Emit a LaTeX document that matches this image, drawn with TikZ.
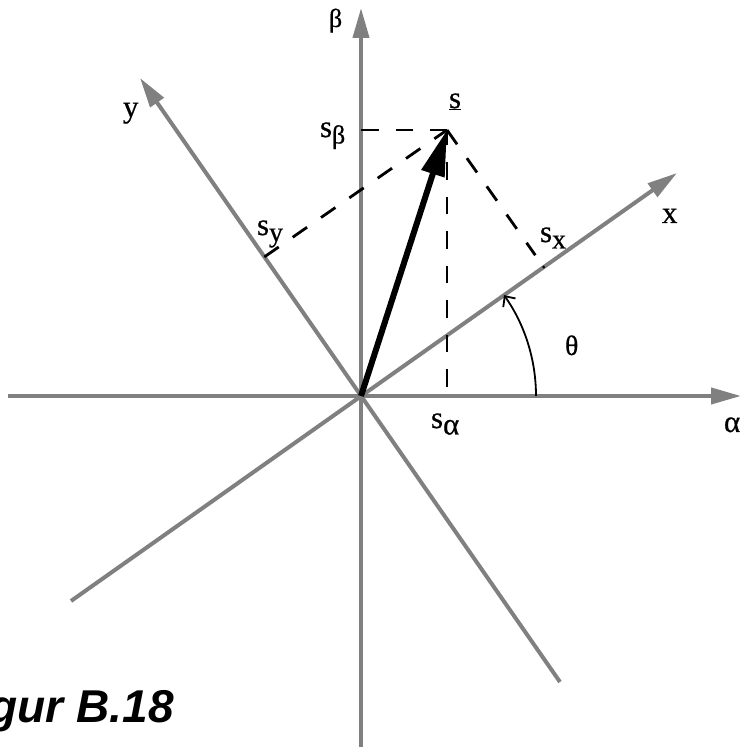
\documentclass[tikz,border=0pt]{standalone}
\usepackage{fontspec}
\setmainfont{Liberation Serif}[FakeBold=0.6]
\newfontfamily\capfont{Liberation Sans}
\usetikzlibrary{arrows.meta,calc}
\definecolor{axisgray}{HTML}{808080}
\newcommand{\mainsz}{\fontsize{31}{34}\selectfont}
\newcommand{\betasz}{\fontsize{26}{29}\selectfont}
\newcommand{\thetasz}{\fontsize{28}{31}\selectfont}
\newcommand{\alphasz}{\fontsize{31}{34}\selectfont}
\newcommand{\subsz}{\fontsize{28}{31}\selectfont}
\newcommand{\mysub}[1]{\raisebox{-6.5pt}{#1}}
\begin{document}
\begin{tikzpicture}[x=1pt,y=1pt,
  axis/.style={draw=axisgray,line width=4pt,-{Triangle[length=30pt,width=16pt]}},
  proj/.style={draw=black,line width=2.8pt,dash pattern=on 17.5pt off 17pt},
  vec/.style={draw=black,line width=6pt,-{Triangle[length=46pt,width=23pt]}},
  anglearc/.style={draw=black,line width=1.8pt,-{Straight Barb[length=8pt,width=15pt]}},
  lbl/.style={inner sep=0pt,outer sep=0pt,anchor=base west,font=\mainsz},
]
\useasboundingbox (0,0) rectangle (742,747);
\coordinate (O) at (361,351);
\coordinate (Aend) at (8,351);
\coordinate (Atip) at (741,351);
\coordinate (Bend) at (361,0);
\coordinate (Btip) at (361,739);
\coordinate (Xend) at (71,146);
\coordinate (Xtip) at (677,574);
\coordinate (Yend) at (560,65);
\coordinate (Ytip) at (140,669);
\coordinate (S) at (447,617);
\coordinate (Sb) at (361,617);
\coordinate (Sa) at (447,360);
\coordinate (Fx) at ($(O)!(S)!(Xtip)$);
\coordinate (Fy) at ($(O)!(S)!(Ytip)$);
\coordinate (Th0) at ($(O)+(175,0)$);

\draw[axis] (Aend) -- (Atip);
\draw[axis] (Bend) -- (Btip);
\draw[axis] (Xend) -- (Xtip);
\draw[axis] (Yend) -- (Ytip);

\draw[proj] (Sb) -- (S);
\draw[proj] (Sa) -- (S);
\draw[proj,shorten >=14.5pt] (S) -- (Fx);
\fill (Fx) circle (1.6pt);
\draw[proj] (Fy) -- (S);

\draw[vec] (O) -- (S);
\draw[anglearc] (Th0) arc[start angle=0,end angle=35.2,radius=175];

\node[lbl,font=\betasz] (lbeta) at (329,720) {β};
\node[lbl] (ly) at (123,630) {y};
\node[lbl] (lsb) at (320,610) {s\mysub{\betasz β}};
\node[lbl] (ls) at (449,639) {\underline{s}};
\node[lbl] (lsy) at (257,512) {s\mysub{\subsz y}};
\node[lbl] (lsx) at (540,505) {s\mysub{\subsz x}};
\node[lbl] (lx) at (662,524) {x};
\node[lbl,font=\thetasz] (ltheta) at (565,392) {θ};
\node[lbl] (lsa) at (431,319) {s\mysub{\alphasz α}};
\node[lbl,font=\alphasz] (lalpha) at (724,315) {α};
\node[inner sep=0pt,anchor=base east,font=\capfont\fontsize{46}{50}\selectfont\bfseries\itshape] (cap) at (174,24) {Figur B.18};
\end{tikzpicture}
\end{document}
